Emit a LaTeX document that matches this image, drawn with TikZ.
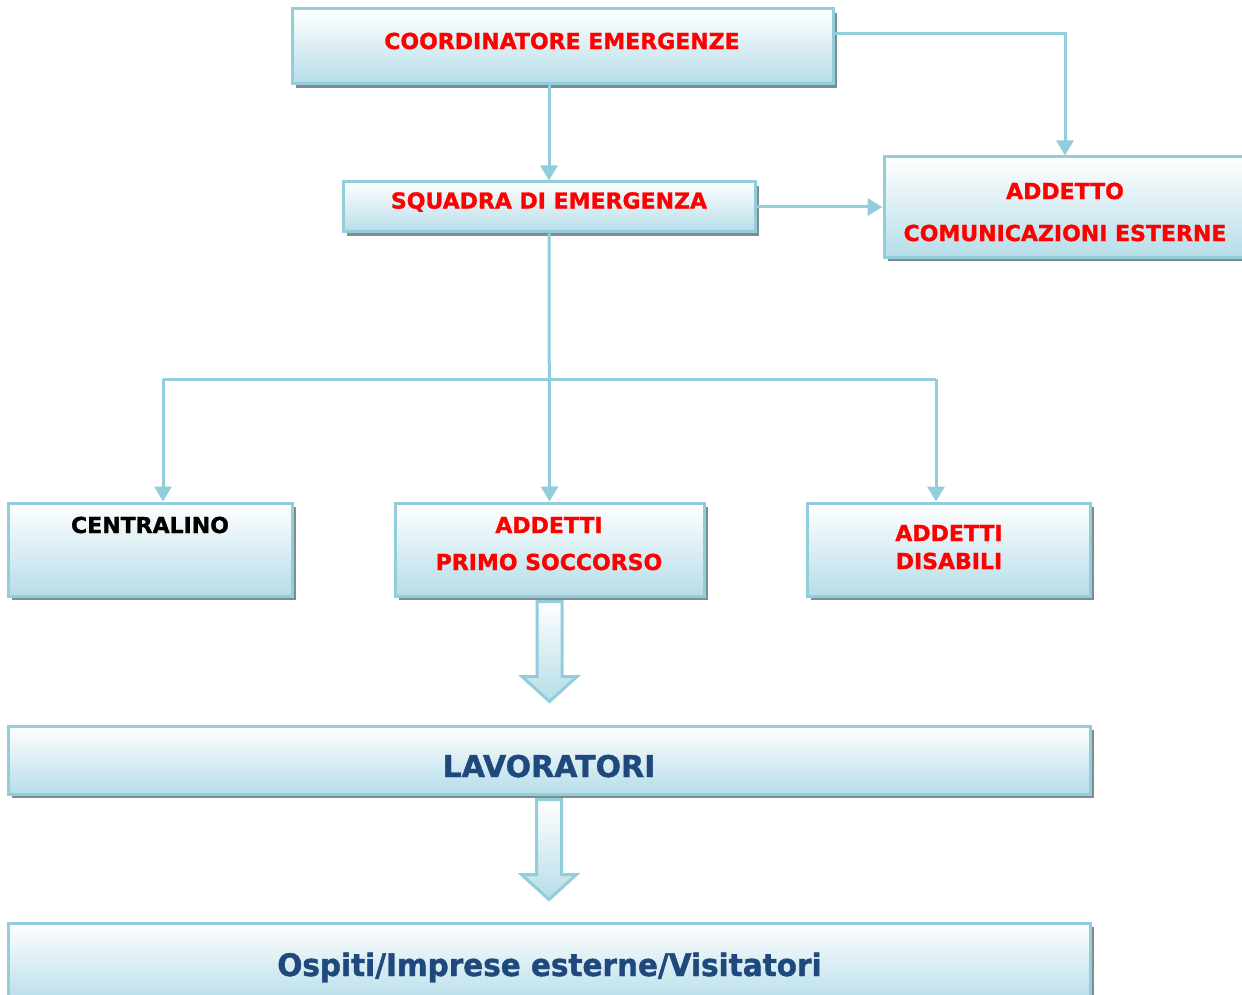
\documentclass[tikz,border=0pt]{standalone}
\usepackage{fontspec}
\setmainfont{DejaVu Sans}[BoldFeatures={FakeBold=1.2}]
\newfontfamily\condfont{DejaVu Sans}[FakeStretch=0.95,BoldFeatures={FakeBold=1.2}]
\usetikzlibrary{arrows.meta,shadows,calc}
\definecolor{lineblue}{HTML}{92CDDC}
\definecolor{fillblue}{HTML}{B6DDE8}
\definecolor{shadowgray}{HTML}{7F8C90}
\definecolor{darkblue}{HTML}{1F497D}
\definecolor{redtxt}{HTML}{FF0000}
\tikzset{
  box/.style={draw=lineblue, line width=3pt, top color=white, bottom color=fillblue,
    inner sep=0pt, general shadow={fill=shadowgray, shadow xshift=4pt, shadow yshift=-4pt}},
  redlbl/.style={font=\bfseries\fontsize{22}{26}\selectfont, text=redtxt, inner sep=0pt},
  blacklbl/.style={font=\bfseries\fontsize{22}{26}\selectfont, text=black, inner sep=0pt},
  biglbl/.style={font=\bfseries\fontsize{30}{34}\selectfont, text=darkblue, inner sep=0pt},
  conn/.style={draw=lineblue, line width=3pt, -{Triangle[width=17pt,length=15pt]}},
  plainconn/.style={draw=lineblue, line width=3pt},
  blockarrow/.style={draw=lineblue, line width=3pt, top color=white, bottom color=fillblue, line join=miter}
}
\begin{document}
\begin{tikzpicture}[x=1pt,y=-1pt]
\useasboundingbox (0,0) rectangle (1242,995);
% boxes
\node[box, minimum width=541pt, minimum height=75pt] (coord) at (562.5,46.5) {};
\node[box, minimum width=412pt, minimum height=50pt] (squad) at (549,207) {};
\node[box, minimum width=362pt, minimum height=100pt] (comm) at (1065,207) {};
\node[box, minimum width=284pt, minimum height=93pt] (cent) at (150,549.5) {};
\node[box, minimum width=309pt, minimum height=93pt] (ps) at (549.5,549.5) {};
\node[box, minimum width=283pt, minimum height=93pt] (dis) at (948.5,549.5) {};
\node[box, minimum width=1082pt, minimum height=68pt] (lav) at (549,760) {};
\node[box, minimum width=1082pt, minimum height=80pt] (osp) at (549,963) {};
% texts
\node[redlbl] (tcoord) at (562,41) {COORDINATORE EMERGENZE};
\node[redlbl] (tsquad) at (549,202) {SQUADRA DI EMERGENZA};
\node[redlbl] (tcomm1) at (1065,191) {ADDETTO};
\node[redlbl] (tcomm2) at (1065,233) {COMUNICAZIONI ESTERNE};
\node[blacklbl] (tcent) at (150,525) {CENTRALINO};
\node[redlbl] (tps1) at (549,525) {ADDETTI};
\node[redlbl] (tps2) at (549,562) {PRIMO SOCCORSO};
\node[redlbl] (tdis1) at (949,533) {ADDETTI};
\node[redlbl] (tdis2) at (949,561) {DISABILI};
\node[biglbl, anchor=base] (tlav) at (549,777) {LAVORATORI};
\node[biglbl, anchor=base, font=\condfont\bfseries\fontsize{31}{35}\selectfont] (tosp) at (549.5,976) {Ospiti/Imprese esterne/Visitatori};
% connectors
\draw[conn] ([yshift=12.5pt]coord.east) -| (comm.north);
\draw[conn] (squad.north |- coord.south) -- (squad.north);
\draw[conn] (squad.east) -- (comm.west);
\draw[conn] (squad.south) -- (ps.north);
\coordinate (jl) at (163,379);
\coordinate (jr) at (936,379);
\draw[plainconn] (jl) -- (jr);
\draw[conn] (jl) -- (jl |- cent.north);
\draw[conn] (jr) -- (jr |- dis.north);
% block arrows
\draw[blockarrow] ($(ps.south)+(-12.5,4)$) -- ($(ps.south)+(12.5,4)$) -- ($(ps.south)+(12.5,79)$)
  -- ($(ps.south)+(27.5,79)$) -- ($(ps.south)+(0,104)$) -- ($(ps.south)+(-27.5,79)$)
  -- ($(ps.south)+(-12.5,79)$) -- cycle;
\draw[blockarrow] ($(lav.south)+(-12.5,4)$) -- ($(lav.south)+(12.5,4)$) -- ($(lav.south)+(12.5,79)$)
  -- ($(lav.south)+(27.5,79)$) -- ($(lav.south)+(0,104)$) -- ($(lav.south)+(-27.5,79)$)
  -- ($(lav.south)+(-12.5,79)$) -- cycle;
\end{tikzpicture}
\end{document}
